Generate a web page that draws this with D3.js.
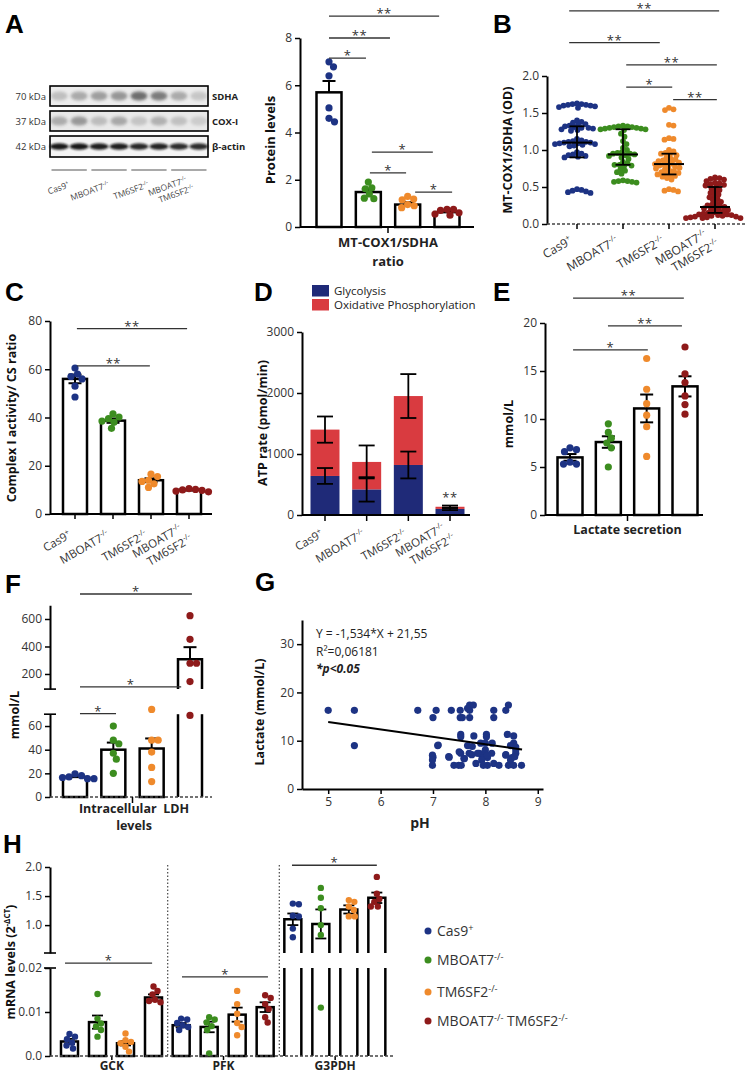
<!DOCTYPE html>
<html><head><meta charset="utf-8">
<script src="https://cdn.jsdelivr.net/npm/d3@7/dist/d3.min.js"></script>
<style>html,body{margin:0;padding:0;background:#fff;}svg{display:block;}</style>
</head><body>
<svg id="fig" width="749" height="1075" xmlns="http://www.w3.org/2000/svg"></svg>
<script>
// ================= DATA =================
const groups = ["Cas9","MBOAT7","TM6SF2","MBOAT7 TM6SF2"];
const groupBase = [["Cas9"],["MBOAT7"],["TM6SF2"],["MBOAT7","TM6SF2"]];
const groupSup = [["+"],["-/-"],["-/-"],["-/-","-/-"]];
const groupColors = ["#1d3384","#3c8d1f","#ef8a2c","#8e1a1a"];

// A – western blot (relative band intensity per lane)
const blotRows = ["SDHA","COX-I","β-actin"];
const blotKDa = ["70 kDa","37 kDa","42 kDa"];
const blotSDHA = [0.22,0.32,0.38,0.42,0.62,0.55,0.32,0.18];
const blotCOX = [0.30,0.40,0.22,0.32,0.18,0.28,0.20,0.14];
const blotActin = [0.95,0.95,0.92,0.92,0.88,0.90,0.86,0.86];

// A – MT-COX1/SDHA protein levels
const protTicks = [0,2,4,6,8];
const protMean = [5.7,1.48,0.95,0.63];
const protSem = [0.48,0.12,0.1,0.06];
const protPts = [[6.78,6.99,6.4,5.04,4.45,4.6],[1.62,1.66,1.9,1.2,1.22,1.4],[1.3,1.18,0.9,0.95,0.82,1.15],[0.75,0.7,0.6,0.55,0.5,0.75]];
const protSig = [[0,2.8,8.93,"**"],[0,1.55,8.0,"**"],[0,0.94,7.15,"*"],[1.09,2.64,3.17,"*"],[1.04,1.96,2.29,"*"],[2.19,3.13,1.48,"*"]];

// B – MT-COX1/SDHA (OD)
const odTicks = [0,0.5,1.0,1.5,2.0];
const odCas9 = [1.63,1.62,1.62,1.61,1.61,1.60,1.60,1.59,1.58,1.57,1.40,1.38,1.37,1.35,1.34,1.33,1.32,1.31,1.30,1.30,1.29,1.28,1.27,1.26,1.15,1.13,1.12,1.11,1.11,1.10,1.10,1.09,1.09,1.08,1.08,1.07,1.06,1.05,0.97,0.95,0.94,0.93,0.92,0.91,0.90,0.47,0.46,0.45,0.44,0.43,0.42];
const odMBOAT7 = [1.33,1.32,1.32,1.31,1.31,1.30,1.30,1.29,1.29,1.28,1.28,1.27,1.22,1.18,1.12,1.08,1.03,1.00,0.97,0.96,0.95,0.95,0.94,0.93,0.92,0.90,0.88,0.84,0.82,0.80,0.80,0.79,0.78,0.74,0.72,0.70,0.68,0.59,0.58,0.58,0.57,0.57,0.56];
const odTM6SF2 = [1.57,1.55,1.54,1.34,1.33,1.16,1.15,1.14,1.00,0.98,0.96,0.95,0.94,0.93,0.90,0.88,0.87,0.86,0.85,0.84,0.83,0.82,0.81,0.80,0.79,0.78,0.77,0.76,0.75,0.74,0.72,0.71,0.70,0.69,0.68,0.67,0.66,0.65,0.64,0.62,0.60,0.47,0.46,0.45,0.44];
const odDKO = [0.63,0.62,0.61,0.60,0.58,0.56,0.55,0.54,0.53,0.52,0.50,0.48,0.46,0.44,0.42,0.40,0.38,0.36,0.34,0.32,0.30,0.28,0.26,0.25,0.24,0.23,0.22,0.21,0.20,0.19,0.18,0.17,0.16,0.15,0.14,0.13,0.13,0.12,0.12,0.11,0.11,0.10,0.10,0.09,0.09,0.08,0.08,0.08];
const odMid = [1.1,0.94,0.81,0.23];
const odLo = [0.9,0.8,0.67,0.15];
const odHi = [1.32,1.28,0.95,0.5];
const odSig = [[-0.17,3.09,2.88,"**"],[-0.17,1.8,2.45,"**"],[1.07,3.04,2.15,"**"],[1.07,2.07,1.85,"*"],[2.09,3.04,1.68,"**"]];

// C – Complex I activity / CS ratio
const ciTicks = [0,20,40,60,80];
const ciMean = [56,38.7,14,10];
const ciSem = [1.8,0.9,0.8,0.25];
const ciPts = [[60.5,58,57,56,53,48.5],[40.2,39.5,38.5,38,35.5,41.5],[16.5,15.5,14,13.5,12.5,11],[10.5,10,9.8,9.5,9.2,10.2]];
const ciSig = [[0.05,2.95,76.8,"**"],[0.05,1.97,61.4,"**"]];

// D – ATP rate (pmol/min)
const atpTicks = [0,1000,2000,3000];
const atpGly = [640,420,820,100];
const atpGlySem = [130,200,220,20];
const atpOx = [760,450,1130,35];
const atpTotSem = [215,270,360,20];
const atpSeries = ["Glycolysis","Oxidative Phosphorylation"];
const atpColors = ["#1f2a78","#d93b40"];

// E – Lactate secretion (mmol/L)
const lacTicks = [0,5,10,15,20];
const lacMean = [6.0,7.6,11.1,13.4];
const lacSem = [0.35,0.6,1.45,1.05];
const lacPts = [[6.8,7.0,6.6,5.3,5.3,5.5],[9.5,8.6,8.0,7.5,7.0,5.0],[16.3,13.1,11.6,10.4,9.2,6.1],[17.5,14.7,13.8,12.4,11.5,10.5]];
const lacSig = [[0.08,2.97,22.6,"**"],[0.99,2.92,19.7,"**"],[0.08,2.03,17.2,"*"]];

// F – Intracellular LDH levels (mmol/L), broken axis
const ldhTicksLow = [0,20,40,60];
const ldhTicksHigh = [200,400,600];
const ldhMean = [17,40,41,307];
const ldhSem = [1,6,8.5,88];
const ldhPts = [[15.5,17,18,16.5,19.5,15.5],[60,48,45,37,32,20],[74,48,48,38,25,13],[624,452,278,278,145,69]];
const ldhSig = [[0.13,3.05,782,"*"],[0.13,2.77,105.5,"*"],[0.13,1.07,70.5,"*"]];

// G – Lactate vs pH
const phTicks = [5,6,7,8,9];
const lactTicks = [0,10,20,30];
const phVals = [5.0,5.5,5.5,6.71,7.0,7.06,7.35,7.52,7.52,7.56,7.7,7.7,7.7,7.77,7.66,8.16,8.16,8.39,8.44,7.09,7.53,7.53,7.78,8.02,8.02,7.66,7.91,8.0,8.13,8.42,8.54,8.54,8.48,8.58,7.53,7.74,7.88,7.97,8.12,7.94,8.04,8.39,8.51,8.58,7.0,7.31,7.59,6.99,6.99,6.99,7.1,7.3,7.4,7.49,7.54,7.5,7.6,7.69,7.82,7.85,7.93,7.96,8.0,8.04,8.04,8.16,8.26,8.39,8.44,8.48,8.56,8.54,8.69,8.58,7.75];
const lactVals = [16.3,16.3,9.0,16.3,14.8,16.3,16.3,16.3,14.8,14.8,16.3,14.8,17.4,17.4,16.7,16.3,14.8,16.3,17.4,9.0,11.3,10.8,11.0,11.3,10.8,9.0,9.5,9.5,9.5,11.3,11.0,9.5,9.0,8.7,7.4,7.1,7.4,7.4,7.4,6.5,6.5,7.1,6.5,7.4,6.6,6.6,6.3,7.0,6.0,4.9,9.1,6.7,4.9,4.9,4.9,7.7,6.3,7.4,5.3,7.4,6.0,4.9,8.1,7.0,4.9,5.3,4.9,7.0,4.9,6.0,6.7,4.9,4.9,8.1,8.8];
const regSlope = -1.534, regIntercept = 21.55, regRange = [5,8.7];
const regText = ["Y = -1,534*X + 21,55","R²=0,06181","*p<0.05"];

// H – mRNA levels
const genes = ["GCK","PFK","G3PDH"];
const mrnaTicksLow = [0,0.01,0.02];
const mrnaTicksHigh = [1.0,1.5,2.0];
const mrnaMean = {GCK:[0.0033,0.0077,0.0029,0.0133], PFK:[0.0070,0.0066,0.0094,0.0111], G3PDH:[1.10,1.02,1.27,1.47]};
const mrnaSem = {GCK:[0.0006,0.0015,0.0005,0.0007], PFK:[0.0005,0.0012,0.0016,0.0011], G3PDH:[0.10,0.25,0.07,0.09]};
const mrnaPts = {
  GCK:[[0.005,0.0044,0.0038,0.003,0.0024,0.0017],[0.0141,0.0085,0.0074,0.0067,0.0059,0.0044],[0.0051,0.0036,0.0032,0.0029,0.0021,0.001],[0.0158,0.0148,0.014,0.0128,0.0122,0.0125]],
  PFK:[[0.0085,0.0083,0.0075,0.007,0.0066,0.0059],[0.0088,0.0083,0.0076,0.0068,0.0059,0.0006],[0.0148,0.0118,0.0096,0.0075,0.0066,0.0047],[0.0138,0.0132,0.0118,0.0107,0.0088,0.0076]],
  G3PDH:[[1.37,1.36,1.16,1.15,0.94,0.79],[1.64,1.47,1.29,1.0,0.83,0.011],[1.43,1.4,1.32,1.26,1.15,1.15],[1.83,1.54,1.45,1.4,1.32,1.32]]
};
const mrnaSig = [["GCK",-0.16,2.95,0.0211,"*"],["PFK",0.03,3.1,0.018,"*"],["G3PDH",-0.03,3.0,2.03,"*"]];

// ================= HELPERS =================
const FONT = "'Open Sans','Noto Sans',sans-serif";
const svg = d3.select("#fig").attr("font-family", FONT);
const defs = svg.append("defs");
defs.append("filter").attr("id","blur").attr("x","-50%").attr("y","-100%").attr("width","200%").attr("height","300%")
  .append("feGaussianBlur").attr("stdDeviation",1.7);
defs.append("filter").attr("id","blur2").attr("x","-50%").attr("y","-100%").attr("width","200%").attr("height","300%")
  .append("feGaussianBlur").attr("stdDeviation",0.8);

function letter(t,x,y){
  svg.append("text").attr("x",x).attr("y",y).text(t)
    .attr("font-family","'Liberation Sans',Arial,sans-serif").attr("font-weight","bold").attr("font-size",26).attr("fill","#000");
}
function rich(sel, bases, sups, fs){
  bases.forEach((b,i)=>{
    sel.append("tspan").attr("dy", i>0 ? fs*0.38 : null).text((i>0?" ":"")+b);
    sel.append("tspan").attr("dy", -fs*0.38).attr("font-size", fs*0.66).text(sups[i]);
  });
}
function yTitle(cx, cy, text, fs){
  fs = fs || 12.5;
  return svg.append("text").attr("transform",`translate(${cx+fs*0.36},${cy}) rotate(-90)`)
    .attr("text-anchor","middle").attr("font-weight","bold").attr("font-size",fs).attr("fill","#111").text(text);
}
function styleAxis(a){
  a.select(".domain").attr("stroke","#000").attr("stroke-width",2);
  a.selectAll(".tick line").attr("stroke","#000").attr("stroke-width",1.5);
  a.selectAll(".tick text").attr("fill","#333").attr("font-size",12).attr("font-family",FONT);
}
function yAxis(x, scale, ticks, fmt){
  const ax = d3.axisLeft(scale).tickValues(ticks).tickSize(5).tickSizeOuter(0).tickPadding(3);
  if (fmt) ax.tickFormat(fmt);
  const a = svg.append("g").attr("transform",`translate(${x},0)`).call(ax);
  styleAxis(a); return a;
}
function hLine(x1,x2,y,dashed){
  const l = svg.append("line").attr("x1",x1).attr("x2",x2).attr("y1",y).attr("y2",y)
    .attr("stroke", dashed ? "#444" : "#000").attr("stroke-width", dashed ? 1.6 : 2);
  if (dashed) l.attr("stroke-dasharray","3,2");
  return l;
}
function vTick(x,y,len){
  svg.append("line").attr("x1",x).attr("x2",x).attr("y1",y).attr("y2",y+(len||5)).attr("stroke","#000").attr("stroke-width",1.5);
}
function swarm(ys, r, gap){
  const order = d3.range(ys.length).sort((a,b)=>ys[a]-ys[b]);
  const placed = [], off = new Array(ys.length), d = 2*r*gap;
  for (const i of order){
    let x = 0;
    for (let k=0;k<400;k++){
      x = (k%2===1?1:-1)*Math.ceil(k/2)*0.5;
      if (placed.every(p => (p.x-x)**2 + (p.y-ys[i])**2 >= d*d)) break;
    }
    placed.push({x, y: ys[i]}); off[i] = x;
  }
  return off;
}
function dots(cx, ys, color, r, gap){
  const off = swarm(ys, r, gap);
  ys.forEach((y,j)=> svg.append("circle").attr("cx",cx+off[j]).attr("cy",y).attr("r",r).attr("fill",color));
}
function errBar(cx, yHi, yLo, cap, capLo, sw){
  svg.append("line").attr("x1",cx).attr("x2",cx).attr("y1",yHi).attr("y2",yLo).attr("stroke","#000").attr("stroke-width",sw||2);
  svg.append("line").attr("x1",cx-cap/2).attr("x2",cx+cap/2).attr("y1",yHi).attr("y2",yHi).attr("stroke","#000").attr("stroke-width",sw||2);
  if (capLo) svg.append("line").attr("x1",cx-cap/2).attr("x2",cx+cap/2).attr("y1",yLo).attr("y2",yLo).attr("stroke","#000").attr("stroke-width",sw||2);
}
function sig(xk, yv, list){
  list.forEach(([k1,k2,v,lab])=>{
    const y = yv(v);
    svg.append("line").attr("x1",xk(k1)).attr("x2",xk(k2)).attr("y1",y).attr("y2",y).attr("stroke","#333").attr("stroke-width",1.3);
    svg.append("text").attr("x",(xk(k1)+xk(k2))/2).attr("y",y+2).attr("text-anchor","middle")
      .attr("font-size",13).attr("fill","#333").attr("letter-spacing",0.5).text(lab);
  });
}
function catLabels(xs, axisY, o){
  groups.forEach((g,i)=>{
    const n = groupBase[i].length;
    groupBase[i].forEach((b,j)=>{
      const t = svg.append("text")
        .attr("transform",`translate(${xs(g)+o.dx},${axisY+o.dy}) rotate(${o.angle})`)
        .attr("x", j*(o.l2dx||0)).attr("y",(j-(n-1)/2)*o.lineH)
        .attr("text-anchor","end").attr("font-size",o.fs).attr("fill",o.fill||"#333");
      rich(t,[b],[groupSup[i][j]],o.fs);
    });
  });
}
function simpleBars(xs, ys, means, sems, pts, o){
  const base = ys(0);
  means.forEach((m,i)=>{
    const cx = xs(groups[i]);
    svg.append("rect").attr("x",cx-o.bw/2).attr("y",ys(m)).attr("width",o.bw).attr("height",base-ys(m))
      .attr("fill","#fff").attr("stroke","#000").attr("stroke-width",o.sw||2.5);
  });
  means.forEach((m,i)=>{
    const cx = xs(groups[i]);
    errBar(cx, ys(m+sems[i]), o.both ? ys(m-sems[i]) : ys(m), o.cap, o.both);
  });
  pts.forEach((arr,i)=> dots(xs(groups[i]), arr.map(ys), groupColors[i], o.r, 0.9));
}

// ================= PANEL A =================
letter("A",5,33);
const lane = d3.scaleBand().domain(d3.range(8)).range([50,208]).paddingInner(0.08);
const blotBoxes = [{y:86,h:20,bands:blotSDHA,fill:"#ececec"},{y:111,h:20,bands:blotCOX,fill:"#e9e9e9"},{y:136,h:21,bands:blotActin,fill:"#f4f4f4"}];
blotBoxes.forEach((b,r)=>{
  svg.append("rect").attr("x",50).attr("y",b.y).attr("width",158).attr("height",b.h).attr("fill",b.fill);
  b.bands.forEach((v,i)=>{
    const cx = lane(i)+lane.bandwidth()/2;
    if (r<2){
      svg.append("ellipse").attr("cx",cx).attr("cy",b.y+b.h/2).attr("rx",8.5).attr("ry",4.5)
        .attr("fill","#222").attr("opacity",v).attr("filter","url(#blur)");
    } else {
      svg.append("ellipse").attr("cx",cx).attr("cy",b.y+b.h/2).attr("rx",9.5).attr("ry",3.3)
        .attr("fill","#111").attr("opacity",v).attr("filter","url(#blur2)");
    }
  });
  svg.append("rect").attr("x",50).attr("y",b.y).attr("width",158).attr("height",b.h).attr("fill","none").attr("stroke","#000").attr("stroke-width",1.6);
  svg.append("text").attr("x",46).attr("y",b.y+b.h/2+3.5).attr("text-anchor","end").attr("font-size",9.5).attr("fill","#333").text(blotKDa[r]);
  svg.append("text").attr("x",212).attr("y",b.y+b.h/2+3.5).attr("font-size",9.5).attr("font-weight","bold").attr("fill","#222").text(blotRows[r]);
});
groups.forEach((g,i)=>{
  svg.append("line").attr("x1",lane(2*i)+1.5).attr("x2",lane(2*i+1)+lane.bandwidth()-1.5).attr("y1",170).attr("y2",170).attr("stroke","#555").attr("stroke-width",1.2);
});
const blotGroupX = d3.scalePoint().domain(groups).range([70,189]);
catLabels(blotGroupX,170,{dx:0,dy:17,angle:-20,fs:8.5,lineH:10,l2dx:4,fill:"#444"});

const yA = d3.scaleLinear([0,8],[227,38]);
const xA = d3.scalePoint().domain(groups).range([329,447]);
const kA = d3.scaleLinear([0,3],[329,447]);
yAxis(300,yA,protTicks);
hLine(300,474,227,false);
vTick(388,227,6);
simpleBars(xA,yA,protMean,protSem,protPts,{bw:25,cap:13,both:false,r:3.6});
sig(kA,yA,protSig);
yTitle(270,140,"Protein levels",13);
svg.append("text").attr("x",388).attr("y",247).attr("text-anchor","middle").attr("font-weight","bold").attr("font-size",13).attr("fill","#222").text("MT-COX1/SDHA");
svg.append("text").attr("x",388).attr("y",266).attr("text-anchor","middle").attr("font-weight","bold").attr("font-size",13).attr("fill","#222").text("ratio");

// ================= PANEL B =================
letter("B",493,33);
const yB = d3.scaleLinear([0,2],[224,76]);
const xB = d3.scalePoint().domain(groups).range([577,715]);
const kB = d3.scaleLinear([0,3],[577,715]);
yAxis(547,yB,odTicks,d3.format(".1f"));
hLine(547,747,224,true);
groups.forEach(g=>vTick(xB(g),224,5));
[odCas9,odMBOAT7,odTM6SF2,odDKO].forEach((arr,i)=> dots(xB(groups[i]), arr.map(yB), groupColors[i], 2.9, 0.78));
odMid.forEach((m,i)=>{
  const cx = xB(groups[i]);
  svg.append("line").attr("x1",cx-15).attr("x2",cx+15).attr("y1",yB(m)).attr("y2",yB(m)).attr("stroke","#000").attr("stroke-width",2);
  errBar(cx, yB(odHi[i]), yB(odLo[i]), 15, true, 1.8);
});
sig(kB,yB,odSig);
yTitle(507,150,"MT-COX1/SDHA (OD)",12.5);
catLabels(xB,224,{dx:-4,dy:19,angle:-30,fs:12,lineH:14,l2dx:6});

// ================= PANEL C =================
letter("C",5,301);
const yC = d3.scaleLinear([0,80],[514,321]);
const xC = d3.scalePoint().domain(groups).range([75,189]);
const kC = d3.scaleLinear([0,3],[75,189]);
yAxis(50,yC,ciTicks);
hLine(50,212,514,false);
groups.forEach(g=>vTick(xC(g),514,5));
simpleBars(xC,yC,ciMean,ciSem,ciPts,{bw:24,cap:13,both:true,r:3.6});
sig(kC,yC,ciSig);
yTitle(11,418,"Complex I activity/ CS ratio",12.5);
catLabels(xC,514,{dx:-3,dy:23,angle:-30,fs:11.5,lineH:14,l2dx:4});

// ================= PANEL D =================
letter("D",254,301);
const yD = d3.scaleLinear([0,3000],[515,332]);
const xD = d3.scalePoint().domain(groups).range([325,450]);
yAxis(302,yD,atpTicks,d3.format("d"));
atpGly.forEach((gv,i)=>{
  const cx = xD(groups[i]), bw = 29;
  svg.append("rect").attr("x",cx-bw/2).attr("y",yD(gv)).attr("width",bw).attr("height",yD(0)-yD(gv)).attr("fill",atpColors[0]);
  svg.append("rect").attr("x",cx-bw/2).attr("y",yD(gv+atpOx[i])).attr("width",bw).attr("height",yD(gv)-yD(gv+atpOx[i])).attr("fill",atpColors[1]);
});
atpGly.forEach((gv,i)=>{
  const cx = xD(groups[i]), tot = gv+atpOx[i];
  errBar(cx, yD(gv+atpGlySem[i]), yD(gv-atpGlySem[i]), 16, true, 1.8);
  errBar(cx, yD(tot+atpTotSem[i]), yD(tot-atpTotSem[i]), 16, true, 1.8);
});
hLine(302,470,515,false);
groups.forEach(g=>vTick(xD(g),515,6));
svg.append("text").attr("x",xD(groups[3])).attr("y",yD(210)).attr("text-anchor","middle").attr("font-size",13).attr("fill","#333").attr("letter-spacing",0.5).text("**");
atpSeries.forEach((s,i)=>{
  svg.append("rect").attr("x",312).attr("y",285+i*14).attr("width",17).attr("height",11.5).attr("fill",atpColors[i]);
  svg.append("text").attr("x",334).attr("y",295+i*14).attr("font-size",11.5).attr("fill","#222").text(s);
});
yTitle(262,423,"ATP rate (pmol/min)",12.5);
catLabels(xD,515,{dx:-1,dy:21,angle:-30,fs:11.5,lineH:14,l2dx:4});

// ================= PANEL E =================
letter("E",493,301);
const yE = d3.scaleLinear([0,20],[515,323]);
const xE = d3.scalePoint().domain(groups).range([570,685]);
const kE = d3.scaleLinear([0,3],[570,685]);
yAxis(545,yE,lacTicks);
hLine(545,703,515,false);
vTick(627.5,515,6);
simpleBars(xE,yE,lacMean,lacSem,lacPts,{bw:25,cap:13,both:true,r:3.6});
sig(kE,yE,lacSig);
yTitle(508,424,"mmol/L",12.5);
svg.append("text").attr("x",627.5).attr("y",534).attr("text-anchor","middle").attr("font-weight","bold").attr("font-size",12.5).attr("fill","#222").text("Lactate secretion");

// ================= PANEL F =================
letter("F",5,593);
const yFL = d3.scaleLinear([0,70],[797,714.2]);
const yFU = d3.scaleLinear([90,700],[689.1,605.25]);
const yF = v => v > 80 ? yFU(v) : yFL(v);
const xF = d3.scalePoint().domain(groups).range([75,190]);
const kF = d3.scaleLinear([0,3],[75,190]);
yAxis(50,yFL,ldhTicksLow);
yAxis(50,yFU,ldhTicksHigh);
[yFU(90),yFL(70)].forEach(y=> svg.append("line").attr("x1",44).attr("x2",56).attr("y1",y).attr("y2",y).attr("stroke","#000").attr("stroke-width",1.6));
ldhMean.forEach((m,i)=>{
  const cx = xF(groups[i]), bw = 24;
  if (m < 80){
    svg.append("rect").attr("x",cx-bw/2).attr("y",yFL(m)).attr("width",bw).attr("height",yFL(0)-yFL(m))
      .attr("fill","#fff").attr("stroke","#000").attr("stroke-width",2.5);
  } else {
    svg.append("path").attr("d",`M${cx-bw/2},${yFU(90)}V${yFU(m)}H${cx+bw/2}V${yFU(90)}`).attr("fill","#fff").attr("stroke","#000").attr("stroke-width",2.5);
    [cx-bw/2,cx+bw/2].forEach(x=> svg.append("line").attr("x1",x).attr("x2",x).attr("y1",yFL(70)).attr("y2",yFL(0)).attr("stroke","#000").attr("stroke-width",2.5));
  }
});
ldhMean.forEach((m,i)=> errBar(xF(groups[i]), yF(m+ldhSem[i]), yF(m), 13, false));
ldhPts.forEach((arr,i)=> dots(xF(groups[i]), arr.map(yF), groupColors[i], 3.6, 0.9));
hLine(50,212,797,true);
vTick(132.5,797,6);
sig(kF,yF,ldhSig);
yTitle(14,715,"mmol/L",12.5);
svg.append("text").attr("x",134).attr("y",813).attr("text-anchor","middle").attr("font-weight","bold").attr("font-size",12.5).attr("fill","#222").attr("xml:space","preserve").text("Intracellular  LDH");
svg.append("text").attr("x",134).attr("y",830).attr("text-anchor","middle").attr("font-weight","bold").attr("font-size",12.5).attr("fill","#222").text("levels");

// ================= PANEL G =================
letter("G",255,591);
const xG = d3.scaleLinear([4.5,9.1],[302,543]);
const yG = d3.scaleLinear([0,35],[789,620]);
const gx = svg.append("g").attr("transform","translate(0,789)").call(d3.axisBottom(xG).tickValues(phTicks).tickFormat(d3.format("d")).tickSize(5).tickSizeOuter(0).tickPadding(3));
styleAxis(gx);
yAxis(302,yG,lactTicks);
phVals.forEach((p,i)=> svg.append("circle").attr("cx",xG(p)).attr("cy",yG(lactVals[i])).attr("r",3.6).attr("fill",groupColors[0]));
const reg = d3.line().x(d=>xG(d)).y(d=>yG(regSlope*d+regIntercept));
svg.append("path").attr("d",reg(regRange)).attr("stroke","#000").attr("stroke-width",2).attr("fill","none");
svg.append("text").attr("x",316).attr("y",638).attr("font-size",12).attr("fill","#222").text(regText[0]);
svg.append("text").attr("x",316).attr("y",656).attr("font-size",12).attr("fill","#222").text(regText[1]);
svg.append("text").attr("x",316).attr("y",673).attr("font-size",12).attr("font-weight","bold").attr("font-style","italic").attr("fill","#222").text(regText[2]);
yTitle(259,712,"Lactate (mmol/L)",12.5);
svg.append("text").attr("x",420).attr("y",828).attr("text-anchor","middle").attr("font-weight","bold").attr("font-size",14).attr("fill","#222").text("pH");

// ================= PANEL H =================
letter("H",3,853);
const yHL = d3.scaleLinear([0,0.02],[1056,968]);
const yHU = d3.scaleLinear([0.52,2.0],[953,867]);
const yH = v => v > 0.1 ? yHU(v) : yHL(v);
const xHg = d3.scaleBand().domain(genes).range([56,391]);
const xHi = d3.scalePoint().domain(groups).range([13.5,97.5]);
yAxis(50,yHL,mrnaTicksLow,d=> d===0 ? "0.0" : d3.format(".2f")(d));
yAxis(50,yHU,mrnaTicksHigh,d3.format(".1f"));
[yHU(0.52),yHL(0.02)].forEach(y=> svg.append("line").attr("x1",44).attr("x2",56).attr("y1",y).attr("y2",y).attr("stroke","#000").attr("stroke-width",1.6));
genes.slice(1).forEach(gn=>{
  svg.append("line").attr("x1",xHg(gn)).attr("x2",xHg(gn)).attr("y1",865).attr("y2",1056).attr("stroke","#555").attr("stroke-width",1.3).attr("stroke-dasharray","1.5,2");
});
genes.forEach(gn=>{
  const bw = 17;
  mrnaMean[gn].forEach((m,i)=>{
    const cx = xHg(gn)+xHi(groups[i]);
    if (m < 0.1){
      svg.append("rect").attr("x",cx-bw/2).attr("y",yHL(m)).attr("width",bw).attr("height",yHL(0)-yHL(m)).attr("fill","#fff").attr("stroke","#000").attr("stroke-width",2.5);
    } else {
      svg.append("path").attr("d",`M${cx-bw/2},${yHU(0.52)}V${yHU(m)}H${cx+bw/2}V${yHU(0.52)}`).attr("fill","#fff").attr("stroke","#000").attr("stroke-width",2.5);
      [cx-bw/2,cx+bw/2].forEach(x=> svg.append("line").attr("x1",x).attr("x2",x).attr("y1",yHL(0.02)).attr("y2",yHL(0)).attr("stroke","#000").attr("stroke-width",2.5));
    }
  });
  mrnaMean[gn].forEach((m,i)=>{
    const cx = xHg(gn)+xHi(groups[i]);
    errBar(cx, yH(m+mrnaSem[gn][i]), yH(m-mrnaSem[gn][i]), 11, true, 1.8);
  });
  mrnaPts[gn].forEach((arr,i)=> dots(xHg(gn)+xHi(groups[i]), arr.map(yH), groupColors[i], 3.2, 0.9));
  const gc = xHg(gn)+xHg.bandwidth()/2;
  vTick(gc,1056,4);
  svg.append("text").attr("x",gc).attr("y",1069.5).attr("text-anchor","middle").attr("font-weight","bold").attr("font-size",12).attr("fill","#222").text(gn);
});
hLine(50,395,1056,true);
mrnaSig.forEach(([gn,k1,k2,v,lab])=>{
  const kH = d3.scaleLinear([0,3],[xHg(gn)+xHi(groups[0]), xHg(gn)+xHi(groups[3])]);
  sig(kH, v > 0.1 ? yHU : yHL, [[k1,k2,v,lab]]);
});
const hT = svg.append("text").attr("transform","translate(14.5,962) rotate(-90)").attr("text-anchor","middle").attr("font-weight","bold").attr("font-size",12.5).attr("fill","#111");
hT.append("tspan").text("mRNA levels (2");
hT.append("tspan").attr("dy",-5).attr("font-size",8).text("-ΔCT");
hT.append("tspan").attr("dy",5).text(")");
[931,960,992,1021].forEach((y,i)=>{
  svg.append("circle").attr("cx",428).attr("cy",y).attr("r",3.5).attr("fill",groupColors[i]);
  const t = svg.append("text").attr("x",437).attr("y",y+5).attr("font-size",14).attr("fill","#333");
  rich(t, groupBase[i], groupSup[i], 14);
});
</script>
</body></html>
